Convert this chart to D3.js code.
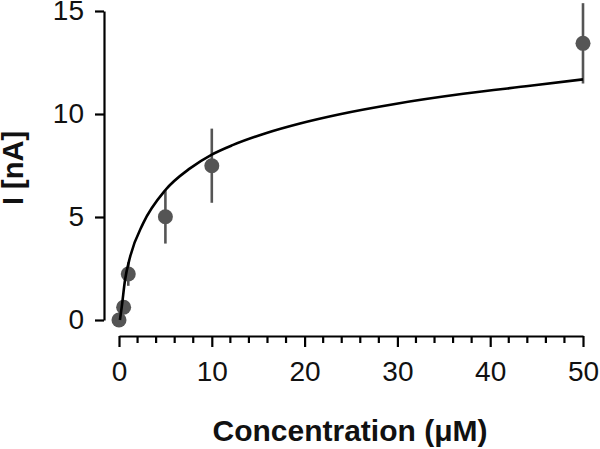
<!DOCTYPE html>
<html>
<head>
<meta charset="utf-8">
<script src="https://cdn.jsdelivr.net/npm/d3@7"></script>
<style>
  html,body{margin:0;padding:0;background:#fff;}
  svg{display:block;font-family:"Liberation Sans",Arial,sans-serif;}
</style>
</head>
<body>
<div id="chart"></div>
<script>
// measured points (mean +/- error)
const conc=[0,0.5,1,5,10,50];
const current=[0,0.62,2.23,5.01,7.49,13.43];
const err=[0.15,0.2,0.57,1.3,1.8,1.95];

// fitted curve
const fitConc=[0.1,0.3,0.65,1.2,2.6,5,7.65,10,12.3,15.9,19.5,23.8,29.9,37.1,44.3,50];
const fitCurrent=[0,0.65,1.94,3.07,4.69,6.31,7.36,8.03,8.5,9.08,9.54,9.99,10.5,10.98,11.37,11.68];

const xTicks=[0,10,20,30,40,50];
const xMinor=[2,4,6,8,12,14,16,18,22,24,26,28,32,34,36,38,42,44,46,48];
const yTicks=[0,5,10,15];

const w=600,h=449;
const x=d3.scaleLinear().domain([0,50]).range([119,583]);
const y=d3.scaleLinear().domain([0,15]).range([320,11]);

const svg=d3.select("#chart").append("svg").attr("width",w).attr("height",h);

// minor ticks on x
svg.append("g").selectAll("line")
   .data(xMinor)
   .enter()
   .append("line")
   .attr("x1",d=>x(d)).attr("x2",d=>x(d))
   .attr("y1",336).attr("y2",343)
   .attr("stroke","#000").attr("stroke-width",2.2);

const xAxis=svg.append("g")
   .attr("transform","translate(0,336)")
   .call(d3.axisBottom(x).tickValues(xTicks).tickSize(11).tickSizeOuter(0).tickPadding(14));

const yAxis=svg.append("g")
   .attr("transform","translate(104,0)")
   .call(d3.axisLeft(y).tickValues(yTicks).tickSize(9).tickSizeOuter(0).tickPadding(11));

[xAxis,yAxis].forEach(g=>{
  g.select(".domain").attr("stroke","#000").attr("stroke-width",2.2);
  g.selectAll("line").attr("stroke","#000").attr("stroke-width",2.2);
  g.selectAll("text").attr("font-size",28).attr("fill","#111")
   .attr("font-family","'Liberation Sans',Arial,sans-serif");
});

const pts=conc.map((c,i)=>({c:c,v:current[i],e:err[i]}));

// error bars
svg.append("g").selectAll("line")
   .data(pts)
   .enter()
   .append("line")
   .attr("x1",d=>x(d.c)).attr("x2",d=>x(d.c))
   .attr("y1",d=>y(d.v+d.e)).attr("y2",d=>y(d.v-d.e))
   .attr("stroke","#555").attr("stroke-width",2.6);

svg.append("g").selectAll("circle")
   .data(pts)
   .enter()
   .append("circle")
   .attr("cx",d=>x(d.c)).attr("cy",d=>y(d.v))
   .attr("r",7.5)
   .attr("fill","#555");

// fit
const line=d3.line().x(d=>x(d[0])).y(d=>y(d[1])).curve(d3.curveMonotoneX);
svg.append("path")
   .datum(fitConc.map((c,i)=>[c,fitCurrent[i]]))
   .attr("d",line)
   .attr("fill","none")
   .attr("stroke","#000")
   .attr("stroke-width",2.6);

svg.append("text")
   .text("Concentration (\u03bcM)")
   .attr("x",350).attr("y",441)
   .attr("text-anchor","middle")
   .attr("font-size",30).attr("font-weight","bold").attr("fill","#111");

svg.append("text")
   .text("I [nA]")
   .attr("transform","translate(23,168) rotate(-90)")
   .attr("text-anchor","middle")
   .attr("font-size",29).attr("font-weight","bold").attr("fill","#111");
</script>
</body>
</html>
